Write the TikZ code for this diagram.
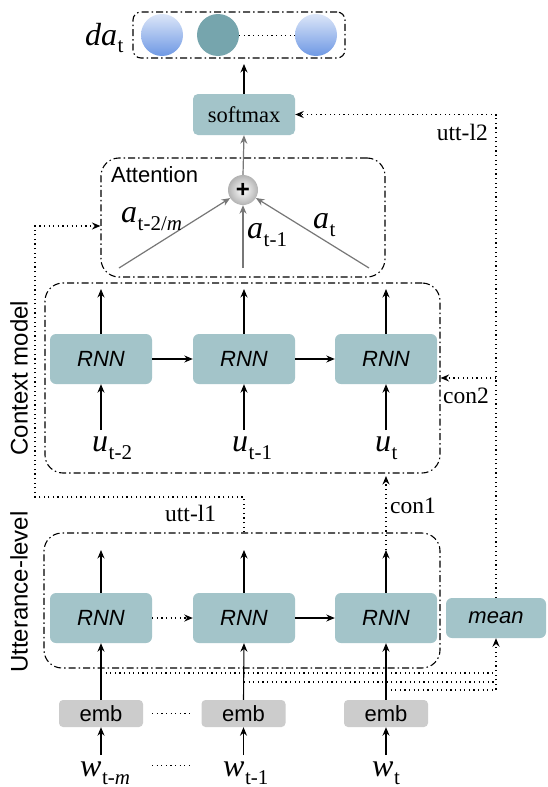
\documentclass[tikz,border=0pt]{standalone}
\usepackage{fontspec}
\setmainfont{Liberation Serif}
\setsansfont{Liberation Sans}
\usetikzlibrary{arrows.meta,calc}
\definecolor{boxc}{HTML}{A3C4C9}
\definecolor{tealc}{HTML}{76A5AD}
\definecolor{blueT}{HTML}{DCE6F8}
\definecolor{blueB}{HTML}{6E98E4}
\definecolor{embc}{HTML}{CCCCCC}
\definecolor{arrgray}{HTML}{777777}
\newcommand\ml[2]{{\fontsize{32}{32}\selectfont\itshape #1}\kern0.5pt\raisebox{-8pt}{\fontsize{21}{21}\selectfont #2}}
\begin{document}
\begin{tikzpicture}[x=1pt,y=-1pt,
  tip/.style={-{Stealth[length=8.5pt,width=7pt,inset=2.8pt]}},
  arr/.style={tip, line width=1.1pt},
  garr/.style={tip, line width=1.2pt, draw=arrgray, color=arrgray},
  dotl/.style={line width=1.4pt, dash pattern=on 1.2pt off 3.4pt},
  darr/.style={dotl, tip},
  grp/.style={draw, line width=1.1pt, dash pattern=on 7pt off 3pt on 1.5pt off 3pt, rounded corners=18pt, inner sep=0pt},
  rnn/.style={fill=boxc, rounded corners=6pt, minimum width=102pt, minimum height=50pt, inner sep=0pt, font=\sffamily\itshape\fontsize{22}{22}\selectfont},
  emb/.style={fill=embc, rounded corners=4pt, minimum width=84pt, minimum height=27pt, inner sep=0pt, font=\sffamily\fontsize{22}{22}\selectfont},
  serl/.style={font=\fontsize{23.5}{23.5}\selectfont, inner sep=0pt},
  sanl/.style={font=\sffamily\fontsize{24}{24}\selectfont, inner sep=0pt},
  mlab/.style={inner sep=0pt, anchor=base west}
]
\useasboundingbox (0,0) rectangle (547,787);
\fill[white] (0,0) rectangle (547,787);

% output layer
\node[grp, rounded corners=8pt, minimum width=212pt, minimum height=46pt] (dabox) at (239,35) {};
\node[circle, minimum size=42pt, inner sep=0pt, top color=blueT, bottom color=blueB] (o1) at (162,35) {};
\node[circle, minimum size=42pt, inner sep=0pt, fill=tealc] (o2) at (218,35) {};
\node[circle, minimum size=42pt, inner sep=0pt, top color=blueT, bottom color=blueB] (o3) at (316,35) {};
\draw[dotl, line width=1pt] (o2.east) -- (o3.west);
\node[mlab] (dal) at (85,45) {\ml{da}{t}};

% softmax
\node[rnn, rounded corners=5pt, minimum width=102pt, minimum height=41pt, font=\fontsize{22.5}{22.5}\selectfont] (soft) at (244,114.5) {softmax};
\coordinate (dtip) at (244,64);
\draw[arr] (soft.north) -- (dtip);

% attention
\node[grp, minimum width=284pt, minimum height=119pt] (att) at (243,217.5) {};
\node[sanl, font=\sffamily\fontsize{22}{22}\selectfont, anchor=base west] (attl) at (111,182) {Attention};
\node[circle, minimum size=30pt, inner sep=0pt, inner color=white, outer color=black!30, font=\sffamily\bfseries\fontsize{24}{24}\selectfont] (plus) at (243,190) {+};
\draw[garr] (plus.north) -- (soft.south);
\coordinate (l1) at (119,268);
\coordinate (l2) at (243,268);
\coordinate (l3) at (369,268);
\draw[garr] (l1) -- (plus);
\draw[garr] (l2) -- (plus);
\draw[garr] (l3) -- (plus);
\node[mlab] (a1) at (121,222) {\ml{a}{t-2/\textit{m}}};
\node[mlab] (a2) at (247,238) {\ml{a}{t-1}};
\node[mlab] (a3) at (313,228) {\ml{a}{t}};

% context model
\node[grp, minimum width=395pt, minimum height=190pt] (ctx) at (242.5,378) {};
\node[sanl, rotate=90] (ctxl) at (19,378) {Context model};
\node[rnn] (c1) at (101,359) {RNN};
\node[rnn] (c2) at (244,359) {RNN};
\node[rnn] (c3) at (386,359) {RNN};
\coordinate (ct1) at (101,289);
\coordinate (ct2) at (244,289);
\coordinate (ct3) at (386,289);
\draw[arr] (c1.north) -- (ct1);
\draw[arr] (c2.north) -- (ct2);
\draw[arr] (c3.north) -- (ct3);
\draw[arr] (c1) -- (c2);
\draw[arr] (c2) -- (c3);
\coordinate (ub1) at (101,430);
\coordinate (ub2) at (244,430);
\coordinate (ub3) at (386,430);
\draw[arr] (ub1) -- (c1.south);
\draw[arr] (ub2) -- (c2.south);
\draw[arr] (ub3) -- (c3.south);
\node[mlab] (u1) at (92,451) {\ml{u}{t-2}};
\node[mlab] (u2) at (232,451) {\ml{u}{t-1}};
\node[mlab] (u3) at (375,451) {\ml{u}{t}};

% utterance level
\node[grp, minimum width=396pt, minimum height=135pt] (utt) at (242,600.5) {};
\node[sanl, rotate=90] (uttl) at (19,592) {Utterance-level};
\node[rnn] (r1) at (101,618) {RNN};
\node[rnn] (r2) at (244,618) {RNN};
\node[rnn] (r3) at (386,618) {RNN};
\node[rnn, minimum width=100pt, minimum height=40pt] (mean) at (496,618) {mean};
\coordinate (rt1) at (101,550);
\coordinate (rt2) at (244,550);
\coordinate (rt3) at (386,550);
\draw[arr] (r1.north) -- (rt1);
\draw[arr] (r2.north) -- (rt2);
\draw[arr] (r3.north) -- (rt3);
\draw[darr] (r1) -- (r2);
\draw[arr] (r2) -- (r3);

% embeddings
\node[emb] (e1) at (101,713.5) {emb};
\node[emb] (e2) at (243.5,713.5) {emb};
\node[emb] (e3) at (386,713.5) {emb};
\draw[dotl, line width=1pt] ($(e1.east)+(9,0)$) -- ($(e2.west)+(-10,0)$);
\draw[arr] (e1.north) -- (r1.south);
\draw[arr] (e2.north) -- (r2.south);
\draw[arr] (e3.north) -- (r3.south);
\coordinate (wb1) at (101,755);
\coordinate (wb2) at (243.5,755);
\coordinate (wb3) at (386,755);
\draw[arr] (wb1) -- (e1.south);
\draw[arr] (wb2) -- (e2.south);
\draw[arr] (wb3) -- (e3.south);
\node[mlab] (w1) at (80,776) {\ml{w}{t-\textit{m}}};
\node[mlab] (w2) at (223,776) {\ml{w}{t-1}};
\node[mlab] (w3) at (372,776) {\ml{w}{t}};
\coordinate (wd1) at (152,765);
\coordinate (wd2) at (189,765);
\draw[dotl, line width=1pt] (wd1) -- (wd2);

% to mean
\coordinate (m1) at (101,673);
\coordinate (m2) at (244,682);
\coordinate (m3) at (386,690);
\draw[dotl] (m1) -- (m1 -| mean);
\draw[dotl] (m2) -- (m2 -| mean);
\draw[darr] (m3) -- (m3 -| mean) -- (mean.south);

% utt-l2 and con2
\draw[darr] (mean.north) -- (mean.north |- soft.east) -- (soft.east);
\node[serl, anchor=base east] (ul2) at (488,140) {utt-l2};
\coordinate (cj) at (496,378);
\draw[darr] (cj) -- (ctx.east |- cj);
\node[serl, anchor=base west] (con2) at (443,403) {con2};

% con1
\coordinate (c1e) at (386,476);
\draw[darr] (rt3) -- (c1e);
\node[serl, anchor=base west] (con1) at (390,513) {con1};

% utt-l1
\coordinate (k0) at (utt.north -| r2);
\coordinate (k1) at (244,497);
\coordinate (k2) at (35,497);
\coordinate (k3) at (35,226);
\draw[darr] (k0) -- (k1) -- (k2) -- (k3) -- (att.west |- k3);
\node[serl, anchor=base west] (ul1) at (165,521) {utt-l1};
\end{tikzpicture}
\end{document}
